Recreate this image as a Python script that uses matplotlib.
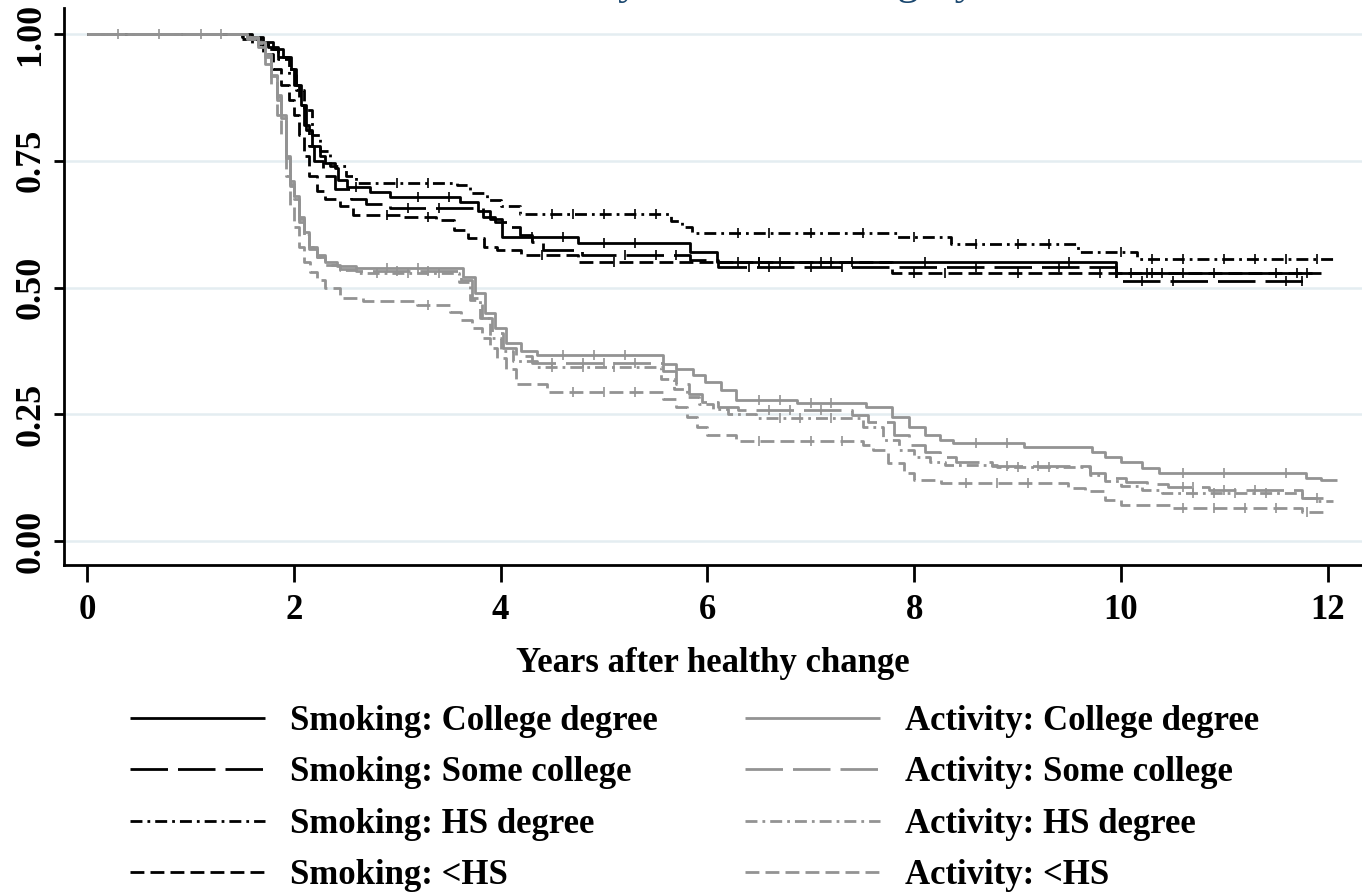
import numpy as np
import matplotlib
matplotlib.use('Agg')
import matplotlib.pyplot as plt
from matplotlib.lines import Line2D

plt.rcParams['font.family'] = ['Liberation Serif', 'DejaVu Serif']
plt.rcParams['font.weight'] = 'bold'

# ---------------------------------------------------------------------------
# data: step times / survival values, censor times
# ---------------------------------------------------------------------------
smk_col_t = [0, 1.55, 1.7, 1.8, 1.9, 1.97, 2.02, 2.07, 2.12, 2.18, 2.25, 2.3, 2.4, 2.43, 2.51,
             2.74, 2.93, 3.61, 3.78, 3.9, 4.01, 4.75, 5.83, 6.09, 9.95, 11.93]
smk_col_s = [1, 0.995, 0.985, 0.97, 0.955, 0.93, 0.90, 0.86, 0.81, 0.78, 0.76, 0.745, 0.735, 0.712,
             0.699, 0.689, 0.679, 0.669, 0.65, 0.636, 0.600, 0.587, 0.571, 0.551, 0.528, 0.528]
smk_col_c = [2.6, 3.2, 3.5, 4.3, 4.6, 5.0, 5.3, 6.5, 7.2, 8.1, 9.5, 10.1, 10.25, 10.4, 10.6, 10.9, 11.7, 11.8]

smk_some_t = [0, 1.6, 1.75, 1.85, 1.95, 2.0, 2.05, 2.1, 2.15, 2.2, 2.28, 2.4, 2.55, 2.7, 2.93,
              3.83, 3.95, 4.1, 4.19, 4.3, 4.41, 4.79, 5.83, 6.1, 9.95, 11.85]
smk_some_s = [1, 0.99, 0.975, 0.955, 0.93, 0.90, 0.86, 0.82, 0.78, 0.75, 0.72, 0.695, 0.675, 0.665,
              0.656, 0.64, 0.63, 0.62, 0.604, 0.59, 0.574, 0.564, 0.555, 0.541, 0.513, 0.513]
smk_some_c = [3.1, 3.4, 5.2, 5.5, 5.7, 6.4, 6.6, 7.0, 7.3, 8.6, 9.4, 10.2, 10.5, 11.6, 11.75]

smk_hs_t = [0, 1.5, 1.65, 1.75, 1.85, 1.95, 2.02, 2.1, 2.18, 2.25, 2.35, 2.5, 2.6, 3.58, 3.7,
            3.87, 4.0, 4.19, 5.65, 5.75, 5.85, 7.83, 8.36, 9.58, 10.15, 12.05]
smk_hs_s = [1, 0.995, 0.985, 0.97, 0.95, 0.92, 0.89, 0.85, 0.80, 0.77, 0.74, 0.72, 0.707, 0.702,
            0.687, 0.673, 0.66, 0.645, 0.632, 0.62, 0.607, 0.600, 0.586, 0.571, 0.556, 0.556]
smk_hs_c = [3.0, 3.3, 4.5, 4.7, 5.0, 5.3, 5.5, 6.3, 6.6, 7.0, 7.5, 8.0, 8.6, 9.0, 9.3,
            10.0, 10.3, 10.6, 11.0, 11.3, 11.6, 11.9]

smk_lhs_t = [0, 1.5, 1.6, 1.7, 1.8, 1.88, 1.95, 2.0, 2.05, 2.1, 2.15, 2.22, 2.3, 2.45, 2.57,
             3.06, 3.38, 3.55, 3.68, 3.84, 3.97, 4.2, 4.75, 7.79, 11.85]
smk_lhs_s = [1, 0.99, 0.98, 0.96, 0.93, 0.90, 0.87, 0.84, 0.80, 0.76, 0.72, 0.69, 0.675, 0.66,
             0.643, 0.640, 0.633, 0.613, 0.597, 0.58, 0.574, 0.564, 0.551, 0.529, 0.529]
smk_lhs_c = [2.9, 3.3, 4.4, 5.1, 6.3, 6.5, 6.7, 7.1, 7.4, 8.0, 8.3, 9.0, 9.8, 10.3, 11.5]

act_col_t = [0, 1.55, 1.65, 1.72, 1.78, 1.84, 1.88, 1.92, 1.96, 2.0, 2.05, 2.1, 2.15, 2.22, 2.3,
             2.42, 2.6, 3.64, 3.75, 3.85, 3.95, 4.05, 4.2, 4.35, 5.57, 5.7, 5.86, 5.98, 6.13,
             6.28, 6.87, 7.53, 7.79, 7.95, 8.1, 8.25, 8.38, 9.06, 9.72, 9.85, 10.0, 10.2, 10.37,
             11.79, 11.93, 12.09]
act_col_s = [1, 0.995, 0.985, 0.96, 0.92, 0.88, 0.84, 0.76, 0.71, 0.68, 0.64, 0.61, 0.58, 0.565,
             0.55, 0.542, 0.538, 0.52, 0.49, 0.45, 0.42, 0.39, 0.375, 0.367, 0.35, 0.34, 0.327,
             0.314, 0.298, 0.278, 0.272, 0.264, 0.245, 0.225, 0.209, 0.200, 0.193, 0.186, 0.176,
             0.165, 0.156, 0.144, 0.135, 0.124, 0.120, 0.120]
act_col_c = [0.3, 0.7, 1.1, 1.3, 2.9, 3.2, 4.6, 4.9, 5.2, 6.5, 6.7, 7.0, 7.2, 8.6, 8.9, 10.6, 11.0, 11.6]

act_some_t = [0, 1.55, 1.65, 1.72, 1.78, 1.84, 1.88, 1.92, 1.96, 2.0, 2.05, 2.1, 2.15, 2.22, 2.3,
              2.45, 2.6, 3.62, 3.72, 3.82, 3.92, 4.02, 4.15, 4.3, 5.57, 5.7, 5.82, 5.95, 6.1,
              6.3, 7.4, 7.55, 7.8, 7.95, 8.1, 8.25, 8.4, 8.75, 9.7, 9.85, 10.05, 10.25, 10.45,
              10.85, 11.75, 12.05]
act_some_s = [1, 0.993, 0.98, 0.955, 0.915, 0.87, 0.83, 0.75, 0.70, 0.67, 0.63, 0.60, 0.575,
              0.56, 0.545, 0.536, 0.532, 0.515, 0.48, 0.44, 0.41, 0.38, 0.365, 0.352, 0.335,
              0.31, 0.29, 0.275, 0.265, 0.258, 0.249, 0.235, 0.21, 0.19, 0.175, 0.165, 0.156,
              0.147, 0.135, 0.125, 0.117, 0.112, 0.107, 0.100, 0.085, 0.085]
act_some_c = [3.0, 3.3, 4.5, 4.8, 5.0, 5.3, 6.6, 6.8, 7.1, 8.9, 9.2, 10.6, 10.7, 11.0, 11.3, 11.9]

act_hs_t = [0, 1.55, 1.65, 1.72, 1.78, 1.84, 1.88, 1.92, 1.96, 2.0, 2.05, 2.1, 2.15, 2.22, 2.3,
            2.45, 2.6, 3.6, 3.7, 3.8, 3.9, 4.0, 4.12, 4.35, 5.55, 5.68, 5.8, 5.92, 6.05, 6.2,
            6.47, 7.5, 7.7, 7.85, 8.0, 8.15, 8.3, 8.8, 9.7, 9.85, 10.0, 10.2, 10.4, 11.75,
            11.9, 12.05]
act_hs_s = [1, 0.994, 0.982, 0.957, 0.918, 0.875, 0.835, 0.755, 0.705, 0.675, 0.635, 0.605,
            0.58, 0.56, 0.545, 0.534, 0.528, 0.51, 0.475, 0.44, 0.40, 0.375, 0.355, 0.343, 0.32,
            0.30, 0.285, 0.27, 0.26, 0.25, 0.243, 0.225, 0.2, 0.18, 0.165, 0.155, 0.15, 0.146,
            0.13, 0.118, 0.108, 0.1, 0.095, 0.085, 0.078, 0.078]
act_hs_c = [2.8, 3.1, 3.4, 4.5, 4.8, 5.1, 6.7, 6.9, 7.2, 9.0, 9.3, 10.7, 10.9, 11.1, 11.4]

act_lhs_t = [0, 1.55, 1.65, 1.72, 1.78, 1.84, 1.88, 1.92, 1.96, 2.0, 2.05, 2.1, 2.16, 2.22, 2.3,
             2.45, 2.67, 3.19, 3.51, 3.62, 3.72, 3.82, 3.9, 3.97, 4.05, 4.15, 4.45, 5.57, 5.7,
             5.8, 5.9, 6.0, 6.28, 7.5, 7.6, 7.75, 7.9, 8.0, 8.26, 9.49, 9.65, 9.85, 10.0,
             10.47, 11.75, 11.95]
act_lhs_s = [1, 0.99, 0.975, 0.94, 0.90, 0.84, 0.80, 0.72, 0.66, 0.62, 0.58, 0.55, 0.53, 0.515,
             0.50, 0.48, 0.473, 0.466, 0.452, 0.436, 0.42, 0.40, 0.38, 0.36, 0.34, 0.31, 0.294,
             0.28, 0.265, 0.245, 0.225, 0.21, 0.198, 0.19, 0.18, 0.154, 0.135, 0.12, 0.114,
             0.105, 0.098, 0.081, 0.071, 0.065, 0.058, 0.058]
act_lhs_c = [3.3, 4.7, 5.0, 5.3, 6.5, 7.0, 7.3, 8.5, 8.8, 9.1, 10.6, 10.9, 11.2, 11.5, 11.8]

labels = ['Smoking: College degree', 'Smoking: Some college', 'Smoking: HS degree', 'Smoking: <HS',
          'Activity: College degree', 'Activity: Some college', 'Activity: HS degree', 'Activity: <HS']

# ---------------------------------------------------------------------------
# styles
# ---------------------------------------------------------------------------
LW = 2.0
BLACK = '#000000'
GRAY = '#939393'
STYLES = [
    (0, ()),                        # solid
    (0, (13.5, 3.6)),               # long dash
    (0, (4.3, 1.8, 1.0, 1.8)),      # dash dot
    (0, (5.0, 2.2)),                # short dash
]

curves = [
    (smk_col_t, smk_col_s, smk_col_c, BLACK, STYLES[0]),
    (smk_some_t, smk_some_s, smk_some_c, BLACK, STYLES[1]),
    (smk_hs_t, smk_hs_s, smk_hs_c, BLACK, STYLES[2]),
    (smk_lhs_t, smk_lhs_s, smk_lhs_c, BLACK, STYLES[3]),
    (act_col_t, act_col_s, act_col_c, GRAY, STYLES[0]),
    (act_some_t, act_some_s, act_some_c, GRAY, STYLES[1]),
    (act_hs_t, act_hs_s, act_hs_c, GRAY, STYLES[2]),
    (act_lhs_t, act_lhs_s, act_lhs_c, GRAY, STYLES[3]),
]

W, H = 1362, 892
fig = plt.figure(figsize=(W / 100, H / 100), dpi=100)
ax = fig.add_axes([64 / W, (H - 565) / H, 1 - 64 / W, (565 - 8) / H])

for yv in [0, 0.25, 0.5, 0.75, 1.0]:
    ax.axhline(yv, color='#e4edf1', lw=1.8, zorder=0)

for t, s, c, col, ls in curves:
    t = np.asarray(t)
    s = np.asarray(s)
    ax.step(t, s, where='post', color=col, lw=LW, linestyle=ls, zorder=2)
    c = np.asarray(c)
    cy = s[np.searchsorted(t, c, side='right') - 1]
    ax.plot(c, cy, ls='none', marker='|', ms=7, mew=1.2, color=col, zorder=3)

ax.set_xlim((64 - 87) / 103.4, (W - 87) / 103.4)
ax.set_ylim((541 - 565) / 507, (541 - 8) / 507)
ax.set_xticks([0, 2, 4, 6, 8, 10, 12])
ax.set_yticks([0, 0.25, 0.5, 0.75, 1.0])
ax.set_yticklabels(['0.00', '0.25', '0.50', '0.75', '1.00'], rotation=90, va='center')

for side in ['top', 'right']:
    ax.spines[side].set_visible(False)
for side in ['left', 'bottom']:
    ax.spines[side].set_linewidth(2.0)
ax.tick_params(axis='y', direction='out', length=7, width=2.0, labelsize=26, pad=5)
ax.tick_params(axis='x', direction='out', length=12, width=2.0, labelsize=25, pad=9)
ax.set_xlabel('Years after healthy change', fontsize=25, fontweight='bold', labelpad=14)

# title mostly cut off at the top of the picture (only descenders show)
fig.text(0.52, 1.0 + 6 / H, 'Survival by education category', ha='center', va='baseline',
         fontsize=31, fontweight='normal', color='#1a476f')

handles = [Line2D([], [], color=col, lw=LW, linestyle=ls) for _, _, _, col, ls in curves]
fig.legend(handles, labels, ncol=2, loc='upper left', bbox_to_anchor=(130 / W, (H - 705) / H),
           frameon=False, fontsize=25, handlelength=3.9, handletextpad=0.72,
           columnspacing=2.5, labelspacing=0.53, borderpad=0, borderaxespad=0)

fig.savefig('out.png', dpi=100)
